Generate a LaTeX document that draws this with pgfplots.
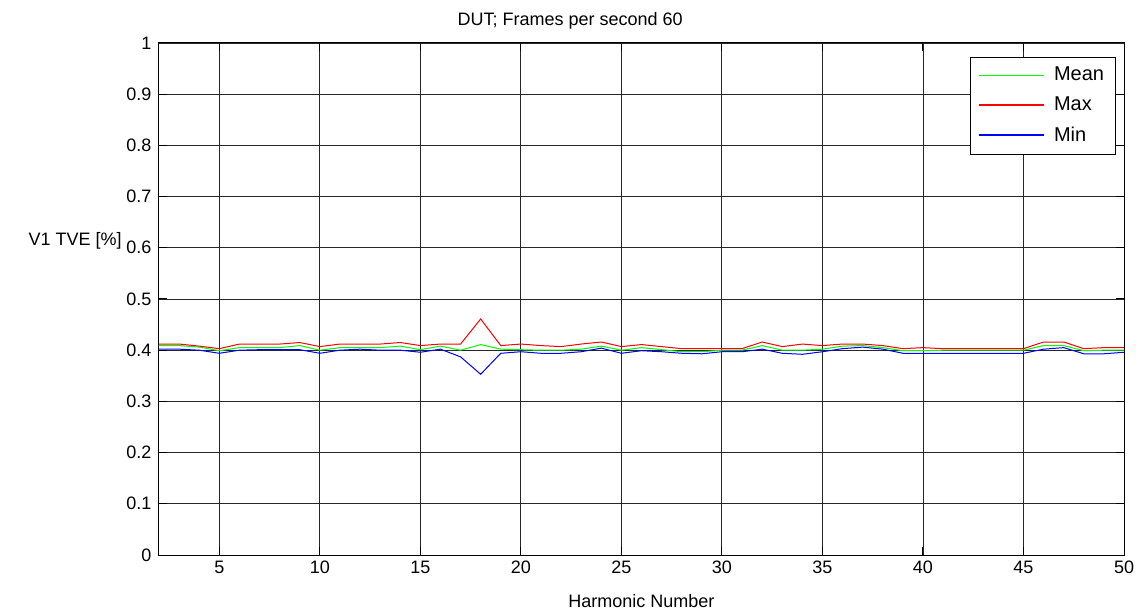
\documentclass[border=0pt]{standalone}
\usepackage{pgfplots}
\pgfplotsset{compat=1.18}
\usepackage{pgfplotstable}
\usepackage{fontspec}
\setmainfont{Liberation Sans}
\definecolor{mgreen}{rgb}{0,1,0}
\pgfplotstableread{
n mean max min
2 0.409 0.412 0.402
3 0.409 0.412 0.402
4 0.406 0.408 0.400
5 0.399 0.403 0.394
6 0.405 0.412 0.400
7 0.405 0.412 0.401
8 0.405 0.412 0.401
9 0.409 0.415 0.401
10 0.400 0.407 0.394
11 0.405 0.412 0.400
12 0.405 0.412 0.402
13 0.405 0.412 0.400
14 0.408 0.415 0.400
15 0.401 0.409 0.396
16 0.408 0.412 0.402
17 0.400 0.412 0.387
18 0.411 0.461 0.353
19 0.402 0.409 0.394
20 0.401 0.412 0.397
21 0.400 0.409 0.394
22 0.400 0.407 0.394
23 0.402 0.412 0.397
24 0.408 0.416 0.404
25 0.400 0.407 0.394
26 0.405 0.411 0.399
27 0.401 0.407 0.397
28 0.397 0.403 0.394
29 0.397 0.403 0.393
30 0.400 0.403 0.397
31 0.400 0.403 0.397
32 0.409 0.416 0.402
33 0.400 0.407 0.394
34 0.400 0.412 0.392
35 0.402 0.409 0.397
36 0.408 0.412 0.403
37 0.409 0.412 0.406
38 0.405 0.409 0.402
39 0.399 0.403 0.394
40 0.399 0.405 0.394
41 0.400 0.403 0.394
42 0.400 0.403 0.394
43 0.400 0.403 0.394
44 0.400 0.403 0.394
45 0.400 0.403 0.394
46 0.409 0.416 0.402
47 0.409 0.416 0.405
48 0.399 0.403 0.393
49 0.400 0.405 0.393
50 0.400 0.405 0.396
}\datatable
\begin{document}
\begin{tikzpicture}
\fontsize{13.5pt}{16pt}\selectfont
\useasboundingbox (-119.25pt,-41.25pt) rectangle (736.5pt,416.25pt);
\begin{axis}[
  scale only axis,
  width=723.75pt, height=384pt,
  at={(0,0)}, anchor=south west,
  xmin=2, xmax=50, ymin=0, ymax=1,
  xtick={5,10,...,50},
  ytick={0,0.1,...,1.0},
  /pgf/number format/assume math mode=true,
  /pgf/number format/fixed,
  /pgf/number format/precision=1,
  tick label style={font=\fontsize{13.5pt}{16pt}\selectfont},
  yticklabel style={xshift=-1pt},
  tick align=inside,
  major tick length=6pt,
  grid=major,
  major grid style={black!85, line width=0.7pt},
  axis line style={black, line width=0.75pt},
  every tick/.style={black, line width=0.75pt},
  clip=false,
  legend style={at={(rel axis cs:0.9907,0.9727)}, anchor=north east,
    draw=black, fill=white,
    font=\fontsize{15pt}{18pt}\selectfont,
    row sep=6pt, inner xsep=6pt, inner ysep=5.5pt,
    cells={anchor=west}},
  legend image code/.code={\draw[#1, line width=1.4pt] (0pt,0pt) -- (48.75pt,0pt);},
]
\addplot[mgreen, line width=0.75pt] table[x=n,y=mean] {\datatable};
\addlegendentry{\hspace{5pt}Mean}
\addplot[red, line width=0.75pt] table[x=n,y=max] {\datatable};
\addlegendentry{\hspace{5pt}Max}
\addplot[blue, line width=0.75pt] table[x=n,y=min] {\datatable};
\addlegendentry{\hspace{5pt}Min}
\node[anchor=base] at (rel axis cs:0.426,1.0335) {DUT; Frames per second 60};
\node[anchor=base] at (rel axis cs:0.5,-0.1035) {Harmonic Number};
\node[anchor=center] at (rel axis cs:-0.087,0.613) {V1 TVE [\%]};
\end{axis}
\end{tikzpicture}
\end{document}
